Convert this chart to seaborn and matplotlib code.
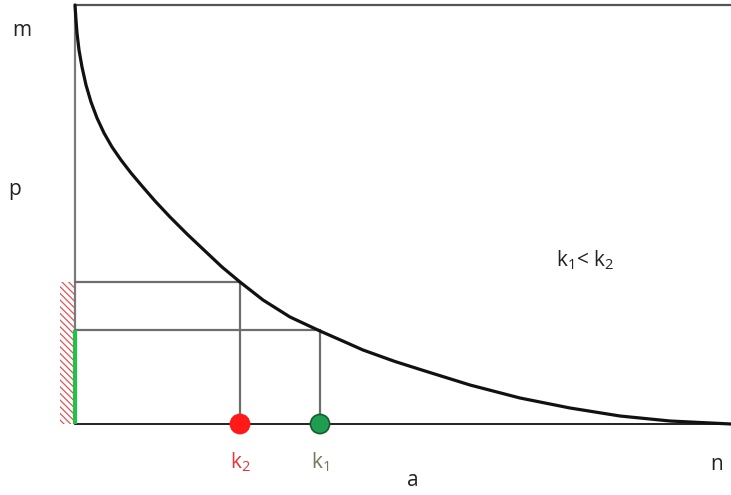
import numpy as np
import pandas as pd
import seaborn as sns
import matplotlib.pyplot as plt
from matplotlib.patches import Rectangle

# curve (x along a, y along p), corner at (0, 0)
curve_x = [0, 1, 2, 4, 7, 11, 16, 22, 29, 37, 46, 56, 67, 80, 95, 112,
           130, 147, 165, 188, 215, 245, 270, 288, 320, 350, 395, 445, 495,
           545, 595, 656]
curve_y = [419, 404, 391, 374, 357, 339, 322, 306, 291, 277, 264, 251, 238,
           223, 207, 190, 173, 157, 142, 124, 107, 93, 82, 74, 62.5, 53, 39,
           26, 16, 8, 3, 0]

x_end = 656
y_top = 419

# the two marked points on the a axis and their heights on the curve
k_names = ['k2', 'k1']
k_labels = ['k$_2$', 'k$_1$']
k_x = [165, 245]
k_y = [142, 94]
dot_colors = ['#ff1a1a', '#1f9e52']
dot_edges = ['#ff1a1a', '#145c32']
label_colors = ['#e8343a', '#6e7a58']

sns.set_style('white')
plt.rcParams['font.family'] = ['Open Sans', 'DejaVu Sans']
plt.rcParams['mathtext.fontset'] = 'custom'
plt.rcParams['mathtext.rm'] = 'Open Sans'
plt.rcParams['mathtext.it'] = 'Open Sans'
plt.rcParams['hatch.linewidth'] = 0.9

fig = plt.figure(figsize=(7.31, 4.95), dpi=100)
ax = fig.add_axes([0, 0, 1, 1])
ax.set_xlim(-75, 656)
ax.set_ylim(-71, 424)
ax.axis('off')

# frame lines
ax.plot([0, x_end], [y_top, y_top], color='#555555', lw=1.6, zorder=2)
ax.plot([0, 0], [0, y_top], color='#7a7a7a', lw=1.6, zorder=2)
ax.plot([0, x_end], [0, 0], color='#222222', lw=1.4, zorder=2)

# hatched band on the p axis
ax.add_patch(Rectangle((-15, 0), 15, k_y[0], facecolor='white',
                       edgecolor='#e05555', hatch='\\\\\\\\\\', lw=0, zorder=1))
# green segment for k1 height
ax.plot([0, 0], [0, k_y[1]], color='#22c24a', lw=3, zorder=3,
        solid_capstyle='butt')

# projection lines
for kx, ky in zip(k_x, k_y):
    ax.plot([0, kx], [ky, ky], color='#6e6e6e', lw=1.6, zorder=2)
    ax.plot([kx, kx], [0, ky], color='#6e6e6e', lw=1.6, zorder=2)

# the curve
df = pd.DataFrame({'x': curve_x, 'y': curve_y})
sns.lineplot(data=df, x='x', y='y', sort=False, color='#111111', lw=2.3,
             ax=ax, zorder=4)

# dots
dots = pd.DataFrame({'x': k_x, 'y': [0, 0], 'k': k_names})
sns.scatterplot(data=dots, x='x', y='y', hue='k', palette=dot_colors,
                edgecolor=dot_edges, linewidth=1.2, s=190, legend=False,
                ax=ax, zorder=5)

for kx, lab, c in zip(k_x, k_labels, label_colors):
    ax.text(kx, -38, lab, color=c, fontsize=15, ha='center', va='center')

ax.text(-53, 394, 'm', fontsize=15, ha='center', va='center', color='#222222')
ax.text(-60, 234, 'p', fontsize=15, ha='center', va='center', color='#222222')
ax.text(510, 164, 'k$_1$< k$_2$', fontsize=15, ha='center', va='center',
        color='#222222')
ax.text(338, -56, 'a', fontsize=15, ha='center', va='center', color='#222222')
ax.text(642, -41, 'n', fontsize=15, ha='center', va='center', color='#222222')

ax.set_xlabel('')
ax.set_ylabel('')
fig.savefig('out.png', dpi=100)
